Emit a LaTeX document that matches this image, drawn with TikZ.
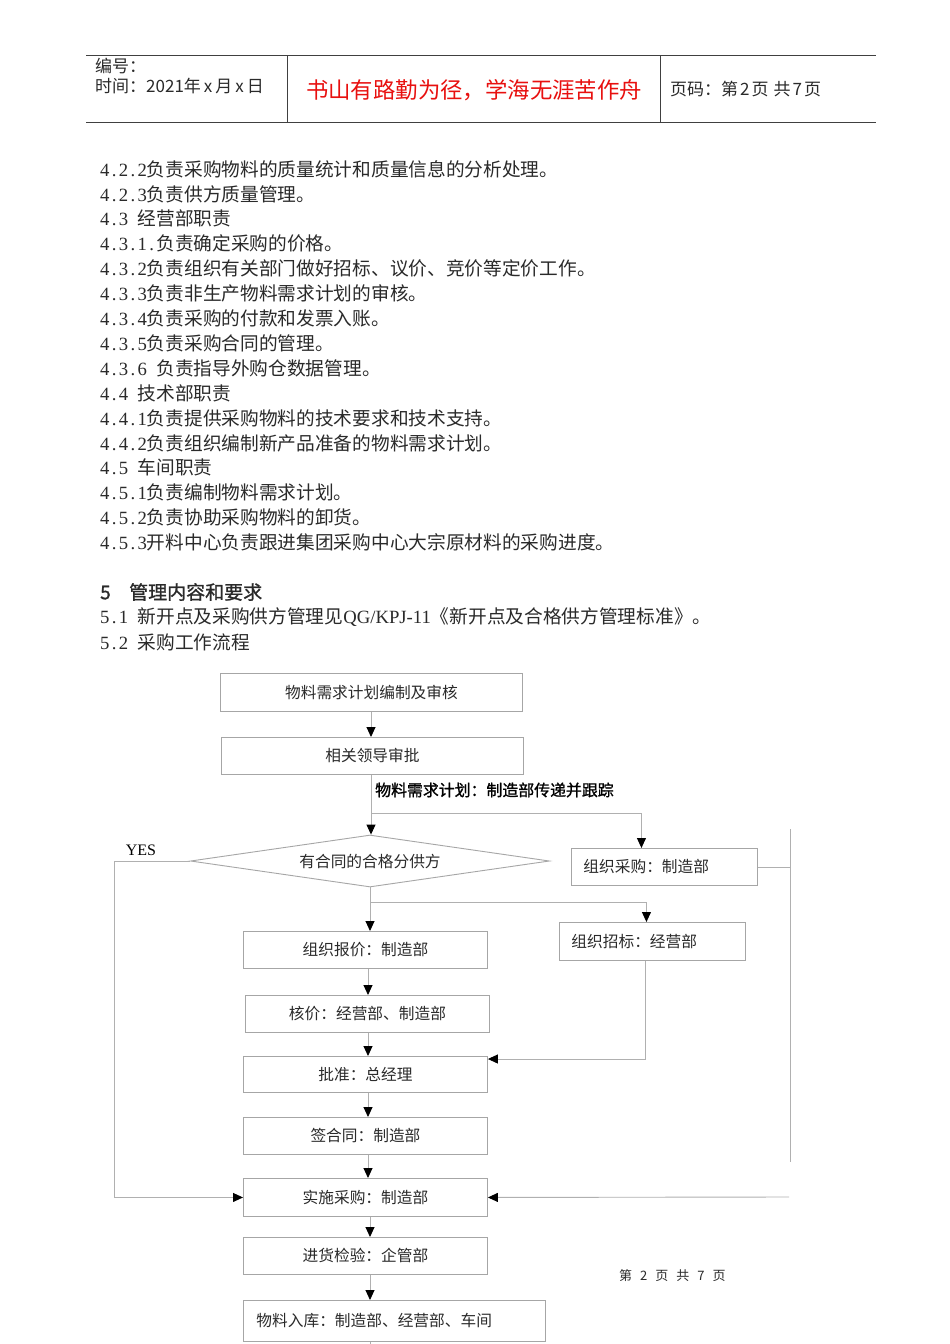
\documentclass[tikz,border=0pt]{standalone}
\usepackage{fontspec}
\setmainfont{Noto Sans CJK SC}
\newfontfamily\cjkb{Noto Sans CJK SC}[FakeBold=1.2]
\newfontfamily\latf{Liberation Serif}
\usetikzlibrary{arrows.meta,shapes.geometric}
\definecolor{boxgray}{HTML}{A6A6A6}
\definecolor{linegray}{HTML}{B0B0B0}
\definecolor{redtxt}{HTML}{E8100F}
\definecolor{txt}{HTML}{2A2A2A}
\definecolor{hdrline}{HTML}{404040}
\makeatletter
\def\pf@loop#1{\ifx\relax#1\else\makebox[0.5em]{#1}\expandafter\pf@loop\fi}
\newcommand{\pf}[1]{{\latf\pf@loop#1\relax}}
\makeatother
\newcommand{\fs}[1]{\fontsize{#1}{#1}\selectfont}
\begin{document}
\begin{tikzpicture}[x=1pt,y=-1pt,
  body/.style={anchor=west, inner sep=0pt, text=txt, font=\fs{18.7}},
  hdr/.style={anchor=west, inner sep=0pt, text=txt, font=\fs{17}},
  fbox/.style={draw=boxgray, line width=0.9pt, inner sep=0pt, font=\fs{15.7}, text=txt, anchor=north west},
  lbox/.style={fbox, align=left, inner xsep=12pt},
  conn/.style={draw=linegray, line width=0.9pt},
  arr/.style={conn, -{Triangle[width=9pt,length=10pt,color=black]}},
  hline/.style={draw=hdrline, line width=0.8pt},
]
\fill[white] (0,0) rectangle (950,1344);
\useasboundingbox (0,0) rectangle (950,1344);

% ---------- header ----------
\coordinate (htl) at (86,55);
\coordinate (htr) at (876,55);
\coordinate (hbl) at (86,122);
\coordinate (hbr) at (876,122);
\draw[hline] (htl) -- (htr);
\draw[hline] (hbl) -- (hbr);
\draw[hline] (287,55) -- (287,122);
\draw[hline] (660,55) -- (660,122);
\node[hdr] (h1) at (95,66) {编号：};
\node[hdr] (h2) at (95,86) {时间：2021年\hspace{3pt}x\hspace{3pt}月\hspace{3pt}x\hspace{3pt}日};
\node[inner sep=0pt, text=redtxt, font=\fs{22.4}] (motto) at (474,90) {书山有路勤为径，学海无涯苦作舟};
\node[hdr] (h3) at (670,89) {页码：第\hspace{2pt}2\hspace{2pt}页\hspace{5pt}共\hspace{2pt}7\hspace{2pt}页};

% ---------- body text ----------
\node[body] (t1)  at (100,169) {\pf{4.2.2}负责采购物料的质量统计和质量信息的分析处理。};
\node[body] (t2)  at (100,194) {\pf{4.2.3}负责供方质量管理。};
\node[body] (t3)  at (100,218) {\pf{4.3~}经营部职责};
\node[body] (t4)  at (100,243) {\pf{4.3.1.}负责确定采购的价格。};
\node[body] (t5)  at (100,268) {\pf{4.3.2}负责组织有关部门做好招标、议价、竞价等定价工作。};
\node[body] (t6)  at (100,293) {\pf{4.3.3}负责非生产物料需求计划的审核。};
\node[body] (t7)  at (100,318) {\pf{4.3.4}负责采购的付款和发票入账。};
\node[body] (t8)  at (100,343) {\pf{4.3.5}负责采购合同的管理。};
\node[body] (t9)  at (100,368) {\pf{4.3.6~}负责指导外购仓数据管理。};
\node[body] (t10) at (100,393) {\pf{4.4~}技术部职责};
\node[body] (t11) at (100,418) {\pf{4.4.1}负责提供采购物料的技术要求和技术支持。};
\node[body] (t12) at (100,443) {\pf{4.4.2}负责组织编制新产品准备的物料需求计划。};
\node[body] (t13) at (100,467) {\pf{4.5~}车间职责};
\node[body] (t14) at (100,492) {\pf{4.5.1}负责编制物料需求计划。};
\node[body] (t15) at (100,517) {\pf{4.5.2}负责协助采购物料的卸货。};
\node[body] (t16) at (100,542) {\pf{4.5.3}开料中心负责跟进集团采购中心大宗原材料的采购进度。};
\node[body, font=\cjkb\fs{19}] (t17) at (100,592) {\makebox[29pt][l]{5}管理内容和要求};
\node[body] (t18) at (100,617) {\pf{5.1~}新开点及采购供方管理见{\latf QG/KPJ-11}《新开点及合格供方管理标准》。};
\node[body] (t19) at (100,642) {\pf{5.2~}采购工作流程};

% ---------- flowchart nodes ----------
\node[fbox, minimum width=302pt, minimum height=38pt] (b1) at (220,673) {物料需求计划编制及审核};
\node[fbox, minimum width=302pt, minimum height=37pt] (b2) at (221,737) {相关领导审批};
\node[inner sep=0pt, anchor=west, font=\cjkb\fs{15.9}, text=black] (lab) at (375,790) {物料需求计划：制造部传递并跟踪};
\node[draw=boxgray, line width=0.9pt, shape=diamond, aspect=7, minimum width=359pt, minimum height=52pt, inner sep=0pt, font=\fs{15.7}, text=txt] (dm) at (370,861) {有合同的合格分供方};
\node[inner sep=0pt, font=\latf\fs{16}, text=black] (yes) at (141,850) {YES};
\node[lbox, text width=162pt, minimum height=37pt] (zc) at (571,848) {组织采购：制造部};
\node[lbox, text width=162pt, minimum height=38pt] (zb) at (559,922) {组织招标：经营部};
\node[fbox, minimum width=244pt, minimum height=37pt] (bj) at (243,931) {组织报价：制造部};
\node[fbox, minimum width=244pt, minimum height=37pt] (hj) at (245,995) {核价：经营部、制造部};
\node[fbox, minimum width=244pt, minimum height=36pt] (pz) at (243,1056) {批准：总经理};
\node[fbox, minimum width=244pt, minimum height=37pt] (qh) at (243,1117) {签合同：制造部};
\node[fbox, minimum width=244pt, minimum height=38pt] (ss) at (243,1178) {实施采购：制造部};
\node[fbox, minimum width=244pt, minimum height=37pt] (jh) at (243,1237) {进货检验：企管部};
\node[lbox, inner xsep=13pt, text width=276pt, minimum height=41pt] (wl) at (243,1300) {物料入库：制造部、经营部、车间};
\node[inner sep=0pt, anchor=west, font=\fs{13}, text=txt] (pg) at (619,1276) {第\hspace{8pt}2\hspace{8pt}页\hspace{8pt}共\hspace{8pt}7\hspace{8pt}页};

% ---------- connectors ----------
\coordinate (c1) at (371,0);
\coordinate (c2) at (368,0);
\coordinate (c3) at (370,0);
\coordinate (j1) at (371,813);
\coordinate (j2) at (370,902);
\coordinate (rt) at (790,829);
\coordinate (rb) at (790,1162);
\coordinate (rr) at (789,1197);

\draw[arr] (c1 |- b1.south) -- (c1 |- b2.north);
\draw[conn] (c1 |- b2.south) -- (j1);
\draw[arr] (j1) -- (j1 |- dm.north);
\draw[arr] (j1) -| ([xshift=-23pt]zc.north);
\draw[conn] (dm.south) -- (j2);
\draw[arr] (j2) -- (j2 |- bj.north);
\draw[arr] (j2) -| ([xshift=-6pt]zb.north);
\draw[arr] (dm.west) -- ++(-76,0) |- (ss.west);
\draw[arr] ([xshift=-7pt]zb.south) |- ([yshift=-3pt]pz.north east);
\draw[arr] (c2 |- bj.south) -- (c2 |- hj.north);
\draw[arr] (c2 |- hj.south) -- (c2 |- pz.north);
\draw[arr] (c2 |- pz.south) -- (c2 |- qh.north);
\draw[arr] (c2 |- qh.south) -- (c2 |- ss.north);
\draw[arr] (c3 |- ss.south) -- (c3 |- jh.north);
\draw[arr] (c3 |- jh.south) -- (c3 |- wl.north);
\draw[conn] (c3 |- wl.south) -- ++(0,4);
\draw[conn] (zc.east) -- (zc.east -| rt);
\draw[conn] (rt) -- (rb);
\draw[arr] (rr) -- (ss.east);
\end{tikzpicture}
\end{document}
